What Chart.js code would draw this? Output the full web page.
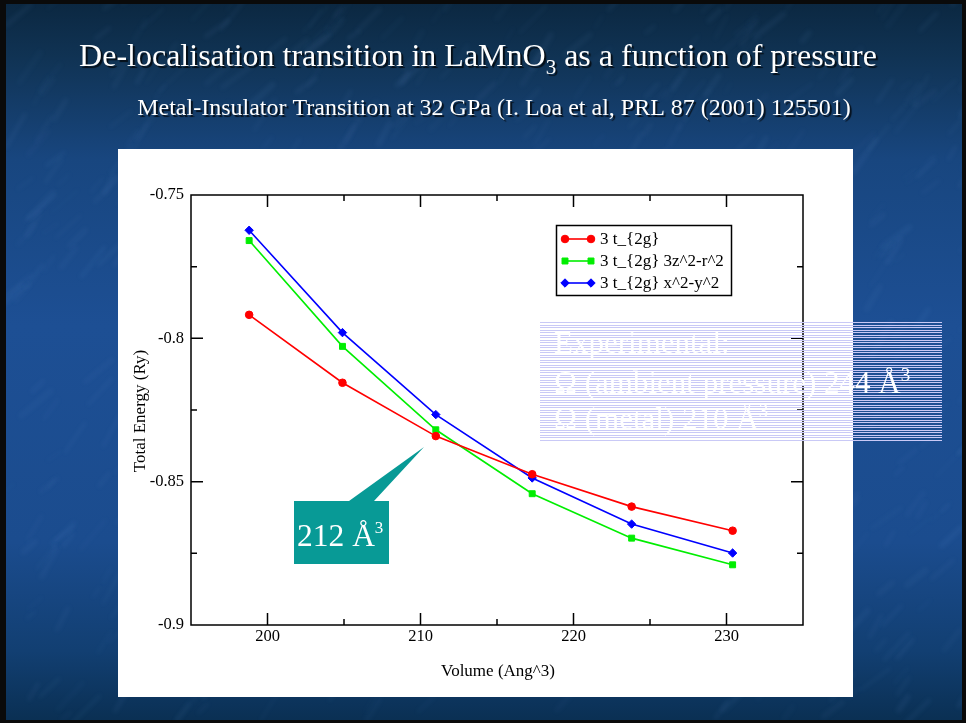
<!DOCTYPE html>
<html>
<head>
<meta charset="utf-8">
<title>LaMnO3 total energy vs volume</title>
<script src="https://cdn.jsdelivr.net/npm/chart.js@4.4.0/dist/chart.umd.min.js"></script>
<style>
  html, body { margin: 0; padding: 0; background: #000; overflow: hidden; }
  #wrap { width: 966px; height: 723px; }
</style>
</head>
<body>
<div id="wrap"><canvas id="energyChart" width="966" height="723"></canvas></div>
<script>
// Cell volume (Ang^3) and total energy (Ry) for the three orbital configurations
const volumes = [198.8, 204.9, 211.0, 217.3, 223.8, 230.4];
const energyT2g = [-0.7918, -0.8155, -0.8341, -0.8474, -0.8587, -0.8671];
const energyT2gZ2 = [-0.7659, -0.8028, -0.8319, -0.8542, -0.8697, -0.8790];
const energyT2gX2Y2 = [-0.7623, -0.7980, -0.8266, -0.8487, -0.8648, -0.8749];
const seriesNames = ['3 t_{2g}', '3 t_{2g} 3z^2-r^2', '3 t_{2g} x^2-y^2'];

const xTickLabels = ['200', '210', '220', '230'];
const yTickLabels = ['-0.9', '-0.85', '-0.8', '-0.75'];

const SERIF = '"Liberation Serif", "Times New Roman", serif';

function toPoints(ys) {
    return volumes.map((v, i) => ({ x: v, y: ys[i] }));
}

function makeDataset(label, ys, color, style, radius) {
    return {
        label: label,
        data: toPoints(ys),
        borderColor: color,
        backgroundColor: color,
        borderWidth: 1.6,
        pointStyle: style,
        pointRadius: radius,
        pointBorderWidth: 1,
        pointBorderColor: color,
        pointBackgroundColor: color,
        tension: 0,
        fill: false
    };
}

// cheap seeded generator so the background mottling comes out the same every time
function lcg(seed) {
    let s = seed;
    return () => {
        s = (s * 1664525 + 1013904223) % 4294967296;
        return s / 4294967296;
    };
}

function drawBackground(ctx, w, h) {
    const g = ctx.createLinearGradient(0, 0, 0, h);
    g.addColorStop(0, '#0b2740');
    g.addColorStop(0.08, '#103354');
    g.addColorStop(0.22, '#18467f');
    g.addColorStop(0.45, '#1d4f94');
    g.addColorStop(0.75, '#1b4c8e');
    g.addColorStop(0.9, '#123f72');
    g.addColorStop(1, '#0a2f52');
    ctx.fillStyle = g;
    ctx.fillRect(0, 0, w, h);

    // soft marbled streaks
    const rnd = lcg(7);
    ctx.save();
    ctx.filter = 'blur(2px)';
    ctx.lineCap = 'round';
    for (let i = 0; i < 700; i++) {
        const x = rnd() * w, y = rnd() * h;
        const len = 10 + rnd() * 30;
        const ang = -1.1 + rnd() * 0.5;
        ctx.strokeStyle = 'rgba(120,165,225,' + (0.03 + rnd() * 0.05).toFixed(3) + ')';
        ctx.lineWidth = 2 + rnd() * 4;
        ctx.beginPath();
        ctx.moveTo(x, y);
        ctx.lineTo(x + Math.cos(ang) * len, y + Math.sin(ang) * len);
        ctx.stroke();
    }
    ctx.restore();

    // dark frame around the slide
    ctx.fillStyle = '#0a0a0a';
    ctx.fillRect(0, 0, w, 4);
    ctx.fillRect(0, h - 3, w, 3);
    ctx.fillRect(0, 0, 6, h);
    ctx.fillRect(w - 4, 0, 4, h);
}

// text with an optional raised/lowered small part, e.g. LaMnO3 or Å3
function drawRich(ctx, parts, x, y) {
    let cx = x;
    parts.forEach(p => {
        ctx.font = p.size + 'px ' + SERIF;
        ctx.fillText(p.text, cx, y + (p.shift || 0));
        cx += ctx.measureText(p.text).width + (p.gap || 0);
    });
    return cx;
}

function richWidth(ctx, parts) {
    let w = 0;
    parts.forEach(p => {
        ctx.font = p.size + 'px ' + SERIF;
        w += ctx.measureText(p.text).width + (p.gap || 0);
    });
    return w;
}

function drawTitles(ctx) {
    ctx.save();
    ctx.fillStyle = '#ffffff';
    ctx.textBaseline = 'alphabetic';
    ctx.shadowColor = 'rgba(0,0,0,0.75)';
    ctx.shadowOffsetX = 2;
    ctx.shadowOffsetY = 2;
    ctx.shadowBlur = 1;

    const title = [
        { text: 'De-localisation transition in LaMnO', size: 32 },
        { text: '3', size: 21, shift: 8 },
        { text: ' as a function of pressure', size: 32 }
    ];
    const tw = richWidth(ctx, title);
    drawRich(ctx, title, 478 - tw / 2, 66);

    const sub = [{ text: 'Metal-Insulator Transition at 32 GPa (I. Loa et al, PRL 87 (2001) 125501)', size: 24 }];
    const sw = richWidth(ctx, sub);
    drawRich(ctx, sub, 494 - sw / 2, 115);
    ctx.restore();
}

function drawFrameAndTicks(chart) {
    const ctx = chart.ctx;
    const a = chart.chartArea;
    const xs = chart.scales.x, ys = chart.scales.y;
    ctx.save();
    ctx.strokeStyle = '#000';
    ctx.lineWidth = 1.5;
    ctx.strokeRect(a.left, a.top, a.right - a.left, a.bottom - a.top);
    ctx.beginPath();
    xs.ticks.forEach(t => {
        const px = xs.getPixelForValue(t.value);
        if (px <= a.left + 1 || px >= a.right - 1) return;
        const len = t.label ? 12 : 6;
        ctx.moveTo(px, a.bottom); ctx.lineTo(px, a.bottom - len);
        ctx.moveTo(px, a.top); ctx.lineTo(px, a.top + len);
    });
    ys.ticks.forEach(t => {
        const py = ys.getPixelForValue(t.value);
        if (py <= a.top + 1 || py >= a.bottom - 1) return;
        const len = t.label ? 12 : 6;
        ctx.moveTo(a.left, py); ctx.lineTo(a.left + len, py);
        ctx.moveTo(a.right, py); ctx.lineTo(a.right - len, py);
    });
    ctx.stroke();

    // axis titles
    ctx.fillStyle = '#000';
    ctx.font = '17px ' + SERIF;
    ctx.textAlign = 'center';
    ctx.textBaseline = 'middle';
    ctx.fillText('Volume (Ang^3)', 498, 672);
    ctx.translate(141, 411);
    ctx.rotate(-Math.PI / 2);
    ctx.fillText('Total Energy (Ry)', 0, 0);
    ctx.restore();
}

function drawMarker(ctx, ds, x, y) {
    const opts = {
        pointStyle: ds.pointStyle,
        radius: ds.pointRadius,
        rotation: 0,
        borderWidth: ds.pointBorderWidth
    };
    ctx.fillStyle = ds.pointBackgroundColor;
    ctx.strokeStyle = ds.pointBorderColor;
    ctx.lineWidth = ds.pointBorderWidth;
    if (Chart.helpers && Chart.helpers.drawPoint) {
        Chart.helpers.drawPoint(ctx, opts, x, y);
    } else {
        ctx.beginPath();
        ctx.arc(x, y, ds.pointRadius, 0, Math.PI * 2);
        ctx.fill();
    }
}

function drawLegend(chart) {
    const ctx = chart.ctx;
    ctx.save();
    ctx.fillStyle = '#fff';
    ctx.fillRect(556, 225, 176, 71);
    ctx.strokeStyle = '#000';
    ctx.lineWidth = 1.5;
    ctx.strokeRect(556.5, 225.5, 175, 70);
    chart.data.datasets.forEach((ds, i) => {
        const y = 239 + i * 22;
        ctx.strokeStyle = ds.borderColor;
        ctx.lineWidth = ds.borderWidth;
        ctx.beginPath();
        ctx.moveTo(565, y);
        ctx.lineTo(591, y);
        ctx.stroke();
        drawMarker(ctx, ds, 565, y);
        drawMarker(ctx, ds, 591, y);
        ctx.fillStyle = '#000';
        ctx.font = '17px ' + SERIF;
        ctx.textAlign = 'left';
        ctx.textBaseline = 'middle';
        ctx.fillText(ds.label, 600, y + 0.5);
    });
    ctx.restore();
}

// hatched box with the experimental volumes
function drawNoteBox(ctx) {
    ctx.save();
    ctx.fillStyle = '#c9c9f6';
    for (let i = 0; i < 48; i++) {
        const y = 322 + Math.round(i * 2.5);
        ctx.fillRect(540, y, 402, 1);
    }
    ctx.fillStyle = '#ffffff';
    ctx.textBaseline = 'alphabetic';
    ctx.textAlign = 'left';
    drawRich(ctx, [{ text: 'Experimental:', size: 31 }], 554, 353);
    drawRich(ctx, [
        { text: '\u03A9 (ambient pressure) 244 \u00C5', size: 31 },
        { text: '3', size: 19, shift: -12 }
    ], 554, 393);
    drawRich(ctx, [
        { text: '\u03A9 (metal) 210 \u00C5', size: 31 },
        { text: '3', size: 19, shift: -12 }
    ], 554, 429);
    ctx.restore();
}

function drawCallout(ctx) {
    ctx.save();
    ctx.fillStyle = '#089a96';
    ctx.beginPath();
    ctx.moveTo(294, 501);
    ctx.lineTo(349, 501);
    ctx.lineTo(424, 447);
    ctx.lineTo(374, 501);
    ctx.lineTo(389, 501);
    ctx.lineTo(389, 564);
    ctx.lineTo(294, 564);
    ctx.closePath();
    ctx.fill();
    ctx.fillStyle = '#ffffff';
    ctx.textBaseline = 'alphabetic';
    drawRich(ctx, [
        { text: '212 \u00C5', size: 31.5 },
        { text: '3', size: 17, shift: -13 }
    ], 297, 546);
    ctx.restore();
}

const slidePlugin = {
    id: 'slide',
    beforeDraw(chart) {
        const ctx = chart.ctx;
        drawBackground(ctx, chart.width, chart.height);
        ctx.fillStyle = '#ffffff';
        ctx.fillRect(118, 149, 735, 548);
        drawTitles(ctx);
    },
    afterDraw(chart) {
        drawFrameAndTicks(chart);
        drawLegend(chart);
        drawNoteBox(chart.ctx);
        drawCallout(chart.ctx);
    }
};

const energyChart = new Chart(document.getElementById('energyChart').getContext('2d'), {
    type: 'line',
    data: {
        datasets: [
            makeDataset(seriesNames[0], energyT2g, '#ff0000', 'circle', 3.8),
            makeDataset(seriesNames[1], energyT2gZ2, '#00ee00', 'rect', 4.2),
            makeDataset(seriesNames[2], energyT2gX2Y2, '#0000ff', 'rectRot', 4.2)
        ]
    },
    options: {
        responsive: false,
        animation: false,
        devicePixelRatio: 1,
        layout: {
            padding: { left: 0, right: 163, top: 195, bottom: 0 }
        },
        plugins: {
            legend: { display: false },
            tooltip: { enabled: false }
        },
        scales: {
            x: {
                type: 'linear',
                min: 195,
                max: 235,
                grid: { display: false, drawTicks: false },
                border: { display: false },
                ticks: {
                    stepSize: 5,
                    autoSkip: false,
                    maxRotation: 0,
                    padding: 2,
                    color: '#000',
                    font: { family: SERIF, size: 16.5 },
                    callback: (v) => {
                        const s = String(Math.round(v));
                        return xTickLabels.includes(s) ? s : '';
                    }
                },
                afterFit: (scale) => { scale.height = 98; }
            },
            y: {
                type: 'linear',
                min: -0.9,
                max: -0.75,
                grid: { display: false, drawTicks: false },
                border: { display: false },
                ticks: {
                    stepSize: 0.025,
                    autoSkip: false,
                    padding: 7,
                    color: '#000',
                    font: { family: SERIF, size: 16.5 },
                    callback: (v) => {
                        const s = String(+v.toFixed(3));
                        return yTickLabels.includes(s) ? s : '';
                    }
                },
                afterFit: (scale) => { scale.width = 191; }
            }
        }
    },
    plugins: [slidePlugin]
});
</script>
</body>
</html>
